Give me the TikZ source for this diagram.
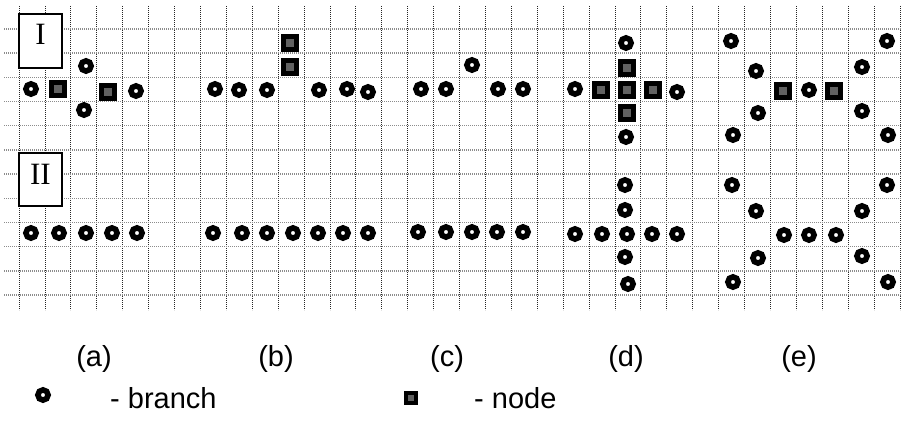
\documentclass[tikz,border=0pt]{standalone}
\usepackage{fontspec}
\setmainfont{Liberation Sans}
\newfontfamily\romfont{Liberation Serif}
\begin{document}
\begin{tikzpicture}[x=1pt,y=-1pt,
  vline/.style={black!85, line width=0.8pt, dash pattern=on 0.9pt off 1.1pt},
  hline/.style={black!45, line width=1.4pt, dash pattern=on 1pt off 1pt},
  branch/.style={circle, draw=black, line width=5.6pt, minimum size=10.2pt, inner sep=0pt},
  nodebox/.style={rectangle, draw=black, fill=black!62, line width=5pt, minimum size=13pt, inner sep=0pt},
  panelbox/.style={rectangle, draw=black, line width=1.2pt, fill=white, minimum width=43pt, inner sep=0pt, font=\romfont\fontsize{31}{31}\selectfont, text height=21pt},
  caption/.style={font=\fontsize{29}{33}\selectfont, inner sep=0pt}
]
\useasboundingbox (0,0) rectangle (904,425);
% grid
\foreach \i in {0,...,34} \draw[vline] ({19+25.91*\i},6) -- ({19+25.91*\i},310);
\foreach \j in {0,...,11} \draw[hline] (4,{29+24.18*\j}) -- (902,{29+24.18*\j});
% panel labels
\node[panelbox, minimum height=54pt, text depth=13pt] (boxI) at (40.5,41) {I};
\node[panelbox, minimum height=53pt, text depth=12pt] (boxII) at (40.5,179.5) {II};
% ---- row I ----
% (a)
\node[branch] (aI1) at (86,66) {};
\node[branch] (aI2) at (31,89) {};
\node[nodebox] (aI3) at (58,89) {};
\node[nodebox] (aI4) at (108,92) {};
\node[branch] (aI5) at (136,91) {};
\node[branch] (aI6) at (84,110) {};
% (b)
\node[nodebox] (bI1) at (290,43) {};
\node[nodebox] (bI2) at (290,67) {};
\node[branch] (bI3) at (215,89) {};
\node[branch] (bI4) at (239,90) {};
\node[branch] (bI5) at (267,90) {};
\node[branch] (bI6) at (319,90) {};
\node[branch] (bI7) at (347,89) {};
\node[branch] (bI8) at (368,92) {};
% (c)
\node[branch] (cI1) at (472,65) {};
\node[branch] (cI2) at (421,89) {};
\node[branch] (cI3) at (446,89) {};
\node[branch] (cI4) at (498,89) {};
\node[branch] (cI5) at (523,89) {};
% (d)
\node[branch] (dI1) at (626,43) {};
\node[nodebox] (dI2) at (627,68) {};
\node[branch] (dI3) at (575,89) {};
\node[nodebox] (dI4) at (601,90) {};
\node[nodebox] (dI5) at (627,90) {};
\node[nodebox] (dI6) at (653,90) {};
\node[branch] (dI7) at (677,92) {};
\node[nodebox] (dI8) at (627,113) {};
\node[branch] (dI9) at (626,137) {};
% (e)
\node[branch] (eI1) at (731,41) {};
\node[branch] (eI2) at (887,41) {};
\node[branch] (eI3) at (756,71) {};
\node[branch] (eI4) at (862,67) {};
\node[nodebox] (eI5) at (783,91) {};
\node[branch] (eI6) at (809,90) {};
\node[nodebox] (eI7) at (834,91) {};
\node[branch] (eI8) at (758,113) {};
\node[branch] (eI9) at (862,111) {};
\node[branch] (eI10) at (733,135) {};
\node[branch] (eI11) at (888,135) {};
% ---- row II ----
% (a)
\node[branch] (aII1) at (31,233) {};
\node[branch] (aII2) at (59,233) {};
\node[branch] (aII3) at (86,233) {};
\node[branch] (aII4) at (112,233) {};
\node[branch] (aII5) at (137,233) {};
% (b)
\node[branch] (bII1) at (213,233) {};
\node[branch] (bII2) at (242,233) {};
\node[branch] (bII3) at (267,233) {};
\node[branch] (bII4) at (293,233) {};
\node[branch] (bII5) at (318,233) {};
\node[branch] (bII6) at (343,233) {};
\node[branch] (bII7) at (368,233) {};
% (c)
\node[branch] (cII1) at (418,232) {};
\node[branch] (cII2) at (446,232) {};
\node[branch] (cII3) at (472,232) {};
\node[branch] (cII4) at (497,232) {};
\node[branch] (cII5) at (523,232) {};
% (d)
\node[branch] (dII1) at (625,185) {};
\node[branch] (dII2) at (625,210) {};
\node[branch] (dII3) at (575,234) {};
\node[branch] (dII4) at (602,234) {};
\node[branch] (dII5) at (627,234) {};
\node[branch] (dII6) at (652,234) {};
\node[branch] (dII7) at (677,234) {};
\node[branch] (dII8) at (625,257) {};
\node[branch] (dII9) at (628,284) {};
% (e)
\node[branch] (eII1) at (732,185) {};
\node[branch] (eII2) at (887,185) {};
\node[branch] (eII3) at (756,211) {};
\node[branch] (eII4) at (862,211) {};
\node[branch] (eII5) at (784,235) {};
\node[branch] (eII6) at (809,235) {};
\node[branch] (eII7) at (836,235) {};
\node[branch] (eII8) at (758,258) {};
\node[branch] (eII9) at (862,256) {};
\node[branch] (eII10) at (733,282) {};
\node[branch] (eII11) at (888,282) {};
% captions
\node[caption, anchor=base] (capa) at (94,366) {(a)};
\node[caption, anchor=base] (capb) at (276,366) {(b)};
\node[caption, anchor=base] (capc) at (447,366) {(c)};
\node[caption, anchor=base] (capd) at (626,366) {(d)};
\node[caption, anchor=base] (cape) at (799,366) {(e)};
% legend
\node[branch] (legc) at (43,395) {};
\node[caption, anchor=base west] (legb) at (110,408) {- branch};
\node[nodebox, line width=4.5pt, minimum size=10pt] (legs) at (411,398) {};
\node[caption, anchor=base west] (legn) at (474,408) {- node};
\end{tikzpicture}
\end{document}
